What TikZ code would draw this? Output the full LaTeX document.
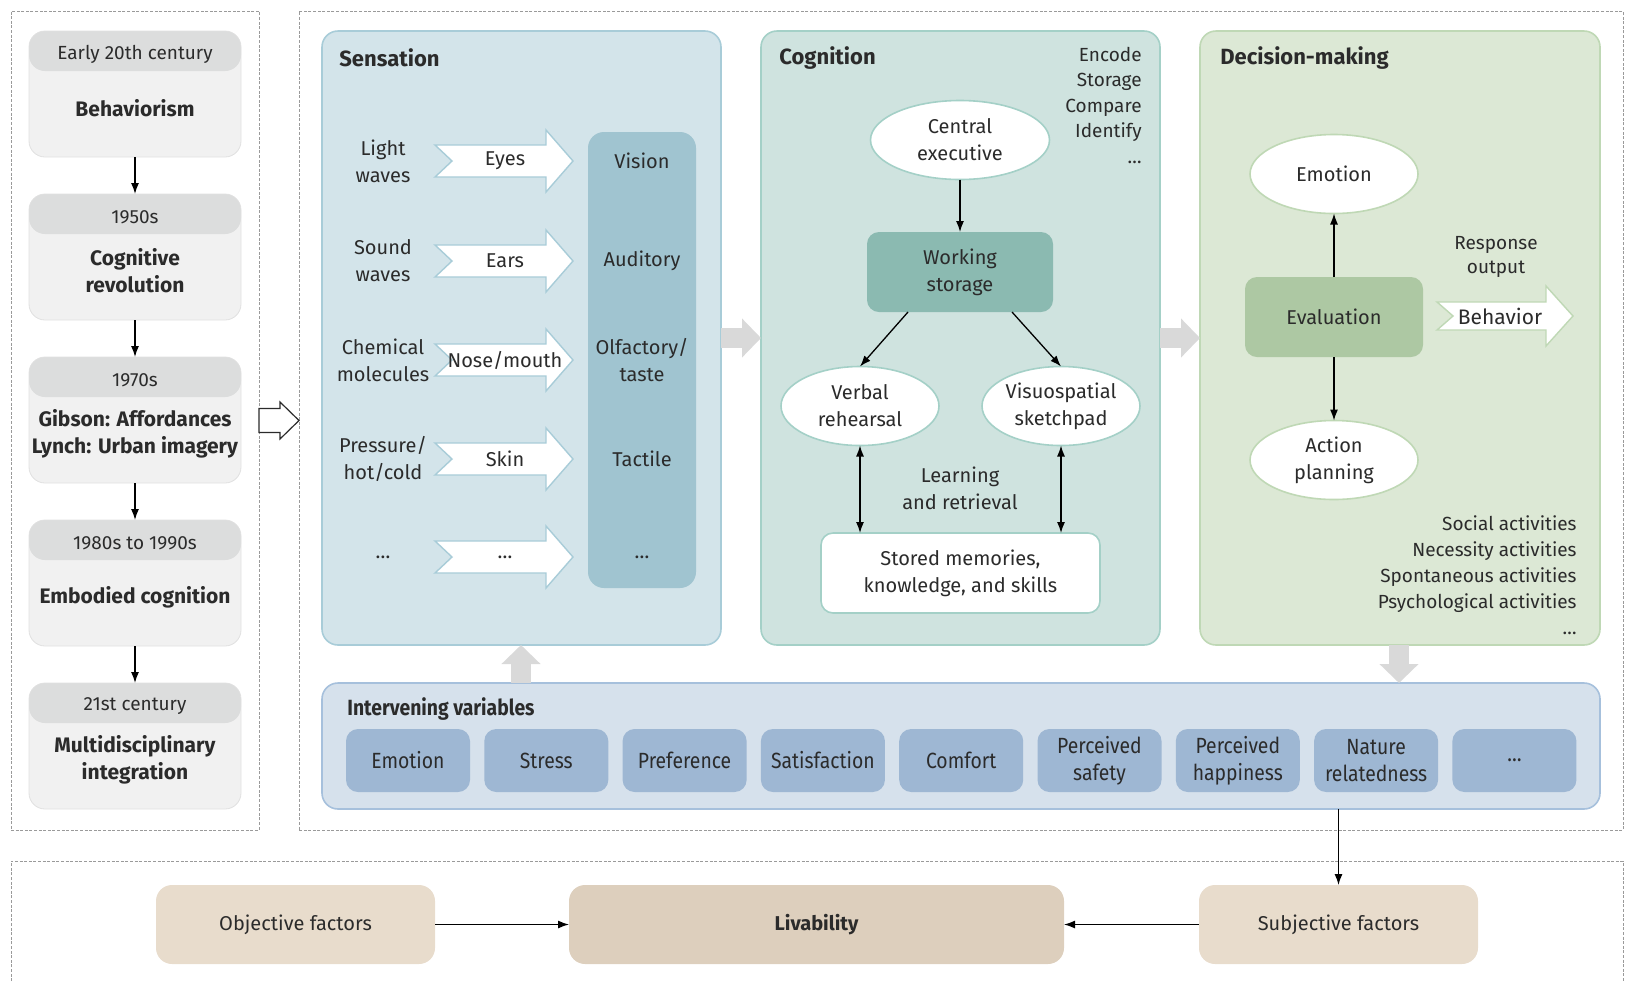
\documentclass[tikz,border=0pt]{standalone}
\usepackage{fontspec}
\setmainfont{Fira Sans}
\newfontfamily\condfont[FakeStretch=0.88]{Fira Sans}
\usetikzlibrary{shapes.geometric,arrows.meta,positioning,calc}

\definecolor{ink}{HTML}{2B2B2B}
\definecolor{dashgray}{HTML}{9A9A9A}
\definecolor{cardhead}{HTML}{DCDDDD}
\definecolor{cardbody}{HTML}{F1F1F1}
\definecolor{cardline}{HTML}{E0E0E0}
\definecolor{sensfill}{HTML}{D3E4EA}
\definecolor{sensline}{HTML}{A8CCD8}
\definecolor{sensdark}{HTML}{A0C4D0}
\definecolor{cogfill}{HTML}{CFE3DF}
\definecolor{cogline}{HTML}{A4D0C7}
\definecolor{cogdark}{HTML}{8BBAB1}
\definecolor{decfill}{HTML}{DCE8D5}
\definecolor{decline}{HTML}{BFD8B5}
\definecolor{decdark}{HTML}{ADC8A3}
\definecolor{ivfill}{HTML}{D6E1EC}
\definecolor{ivline}{HTML}{A6C0DC}
\definecolor{ivbox}{HTML}{9EB7D3}
\definecolor{facfill}{HTML}{E8DCCC}
\definecolor{livfill}{HTML}{DDCFBD}
\definecolor{flowgray}{HTML}{D9D9D9}

\tikzset{
  frame/.style={draw=dashgray, line width=0.5pt, dash pattern=on 1.5pt off 0.8pt, inner sep=0, outer sep=0},
  card/.style={draw=cardline, fill=cardbody, rounded corners=8pt, minimum width=106pt, minimum height=63pt, inner sep=0, outer sep=0,
    path picture={\fill[cardhead] (path picture bounding box.north west) rectangle ([yshift=-20pt]path picture bounding box.north east);}},
  yeartxt/.style={font=\fontsize{9.5}{11}\selectfont},
  eratxt/.style={font=\bfseries\fontsize{10.5}{13.5}\selectfont, align=center},
  panel/.style={rounded corners=8pt, line width=0.8pt, inner sep=0, outer sep=0, minimum width=199.5pt, minimum height=307pt},
  ptitle/.style={font=\bfseries\fontsize{11}{13}\selectfont, anchor=west, inner sep=0},
  oval/.style={ellipse, fill=white, line width=0.8pt, align=center, inner xsep=-4pt, inner ysep=-3pt, outer sep=0, minimum width=89.5pt, minimum height=39.5pt},
  rbox/.style={rounded corners=6pt, align=center, inner sep=0, outer sep=0, minimum height=40pt},
  ivbox/.style={fill=ivbox, rounded corners=6pt, minimum width=62pt, minimum height=31.5pt, inner sep=0, align=center, font=\condfont\fontsize{11}{13.5}\selectfont},
  factor/.style={fill=facfill, rounded corners=8pt, minimum width=139.5pt, minimum height=39.5pt, inner sep=0, outer sep=0, font=\fontsize{10}{12}\selectfont},
  link/.style={black, line width=0.65pt, -{Latex[length=5.5pt,width=4pt]}},
  duallink/.style={black, line width=0.65pt, {Latex[length=5.5pt,width=4pt]}-{Latex[length=5.5pt,width=4pt]}},
  flow/.style={draw=flowgray, line width=10pt, -{Triangle[length=9.5pt,width=19pt]}},
  organarrow/.style={fill=white, line width=0.7pt, line join=miter}
}

\begin{document}
\begin{tikzpicture}[x=0.5pt, y=-0.5pt, font=\fontsize{10}{13.5}\selectfont, text=ink]
\useasboundingbox (0,0) rectangle (1632,981);

% dashed frames
\node[frame, minimum width=124pt, minimum height=409.5pt] (leftframe) at (135,420.5) {};
\node[frame, minimum width=662pt, minimum height=409.5pt] (mainframe) at (961,420.5) {};
\draw[dashgray, line width=0.5pt, dash pattern=on 1.5pt off 0.8pt] (11,995) |- (1623,861) -- (1623,995);

% timeline
\foreach \yr/\era [count=\i] in {Early 20th century/Behaviorism, 1950s/{Cognitive\\revolution},
    1970s/{Gibson: Affordances\\Lynch: Urban imagery}, 1980s to 1990s/Embodied cognition,
    21st century/{Multidisciplinary\\integration}} {
  \pgfmathsetmacro\cy{94+163*(\i-1)}
  \node[card] (card\i) at (135,\cy) {};
  \node[yeartxt] (year\i) at ([yshift=-11.5pt]card\i.north) {\yr};
  \node[eratxt] (era\i) at ([yshift=-7pt]card\i.center) {\era};
}
\foreach \i [evaluate=\i as \j using int(\i+1)] in {1,...,4}
  \draw[link] (card\i.south) -- (card\j.north);

\draw[ink, fill=white, line width=0.6pt] ([shift={(0,-12)}]leftframe.east) -- ++(21,0) -- ++(0,-6.5)
  -- (mainframe.west) -- ++(-19,18.5) -- ++(0,-6.5) -- ++(-21,0) -- cycle;

% panels
\node[panel, fill=sensfill, draw=sensline] (sens) at (521.5,338) {};
\node[panel, fill=cogfill, draw=cogline] (cog) at (960.5,338) {};
\node[panel, fill=decfill, draw=decline, minimum width=200pt] (dec) at (1400,338) {};
\node[panel, fill=ivfill, draw=ivline, minimum width=639pt, minimum height=63pt] (interv) at (961,746) {};

\node[ptitle] at (339,58) {Sensation};
\node[ptitle] at (779,58) {Cognition};
\node[ptitle] at (1220,58) {Decision-making};
\node[ptitle, font=\condfont\bfseries\fontsize{11}{13}\selectfont] at (347,709) {Intervening variables};

\coordinate (upx) at (521,0);
\coordinate (dnx) at (1399,0);
\draw[flow] (sens.east) -- (cog.west);
\draw[flow] (cog.east) -- (dec.west);
\draw[flow] (interv.north -| upx) -- (sens.south -| upx);
\draw[flow] (dec.south -| dnx) -- (interv.north -| dnx);

% sensation
\node[fill=sensdark, rounded corners=8pt, minimum width=54pt, minimum height=228pt, inner sep=0] (sensecol) at (642,360) {};
\foreach \y/\src/\organ/\sense [count=\i] in {161/{Light\\waves}/Eyes/Vision, 261/{Sound\\waves}/Ears/Auditory,
    360/{Chemical\\molecules}/{Nose/mouth}/{Olfactory/\\taste}, 459/{Pressure/\\hot/cold}/Skin/Tactile,
    557/{\ldots}/{\ldots}/{\ldots}} {
  \draw[organarrow, draw=sensline] (435,\y-16) -- (546,\y-16) -- (546,\y-31) -- (573,\y) -- (546,\y+31)
    -- (546,\y+16) -- (435,\y+16) -- (452,\y) -- cycle;
  \node[align=center] (src\i) at (383,\y) {\src};
  \node (organ\i) at (505,\y) {\organ};
  \node[align=center] (sense\i) at (642,\y) {\sense};
}

% cognition
\node[align=right, anchor=east, inner sep=0, font=\fontsize{9.5}{12.75}\selectfont] (ops) at (1142,105) {Encode\\Storage\\Compare\\Identify\\\ldots};
\node[oval, draw=cogline] (exec) at (960,140) {Central\\executive};
\node[rbox, fill=cogdark, minimum width=93pt] (work) at (960,272) {Working\\storage};
\node[oval, draw=cogline, minimum width=79pt] (verbal) at (860,406) {Verbal\\rehearsal};
\node[oval, draw=cogline, minimum width=79pt] (sketch) at (1061,406) {Visuospatial\\sketchpad};
\node[rbox, fill=white, draw=cogline, line width=0.8pt, minimum width=139.5pt] (memory) at (960.5,573) {Stored memories,\\knowledge, and skills};
\node[align=center] (learn) at (960,488) {Learning\\and retrieval};
\draw[link] (exec) -- (work);
\draw[link] ([xshift=-26pt]work.south) -- (verbal.north);
\draw[link] ([xshift=26pt]work.south) -- (sketch.north);
\draw[duallink] (verbal.south) -- (verbal.south |- memory.north);
\draw[duallink] (sketch.south) -- (sketch.south |- memory.north);

% decision-making
\node[oval, draw=decline, minimum width=84pt] (emotion) at (1334,174) {Emotion};
\node[rbox, fill=decdark, minimum width=89pt] (evaluation) at (1334,317) {Evaluation};
\node[oval, draw=decline, minimum width=84pt] (action) at (1334,460) {Action\\planning};
\draw[link] (evaluation) -- (emotion);
\draw[link] (evaluation) -- (action);
\node[align=center, font=\fontsize{9.5}{12}\selectfont] (response) at (1496,257) {Response\\output};
\draw[organarrow, draw=decline] (1437,302) -- (1546,302) -- (1546,286) -- (1573,316) -- (1546,346)
  -- (1546,330) -- (1437,330) -- (1453,316) -- cycle;
\node[font=\fontsize{10.5}{12}\selectfont] (behavior) at (1500,316) {Behavior};
\node[align=right, anchor=east, inner sep=0, font=\fontsize{9.5}{13}\selectfont] (acts) at (1577,575) {Social activities\\Necessity activities\\Spontaneous activities\\Psychological activities\\\ldots};

% intervening variables
\foreach \v [count=\i] in {Emotion, Stress, Preference, Satisfaction, Comfort, {Perceived\\safety},
    {Perceived\\happiness}, {Nature\\relatedness}, {\ldots}}
  \node[ivbox] (var\i) at ({408+138.3*(\i-1)},760.5) {\v};

% livability
\node[factor] (objective) at (295.5,924.5) {Objective factors};
\node[factor, fill=livfill, minimum width=247.5pt, font=\bfseries\fontsize{10}{12}\selectfont] (livability) at (816.5,924.5) {Livability};
\node[factor] (subjective) at (1338.5,924.5) {Subjective factors};
\draw[link] (objective) -- (livability);
\draw[link] (subjective) -- (livability);
\draw[link] (interv.south -| subjective.north) -- (subjective.north);
\end{tikzpicture}
\end{document}
